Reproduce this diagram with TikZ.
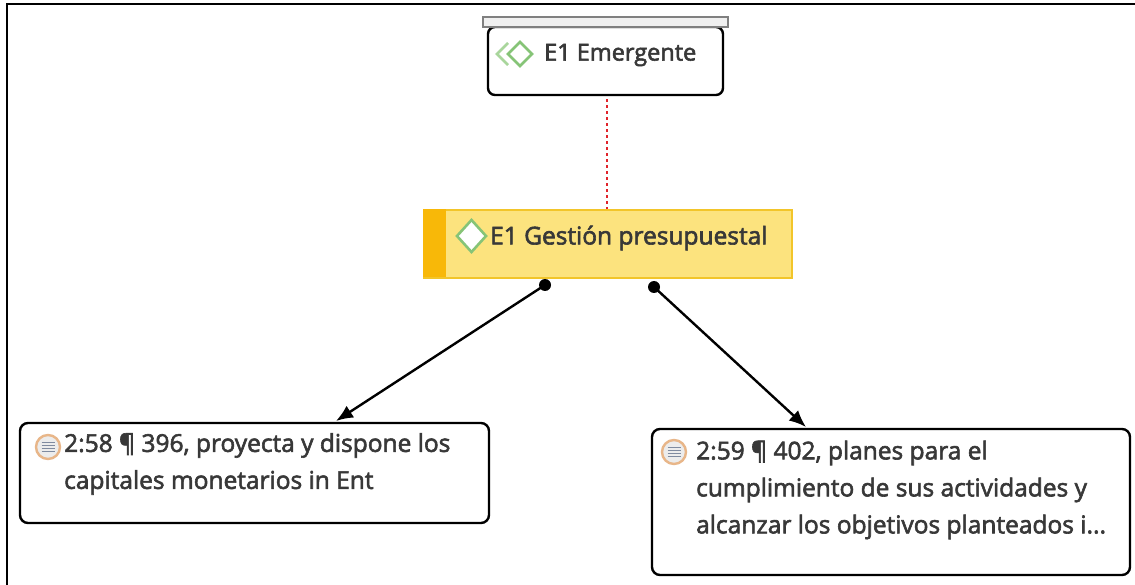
\documentclass[tikz,border=0pt]{standalone}
\usepackage{fontspec}
\setmainfont{Open Sans}[FakeBold=2.4]
\usetikzlibrary{arrows.meta}
\definecolor{txtgray}{HTML}{383838}
\definecolor{codegreen}{HTML}{86C477}
\definecolor{codegreenlt}{HTML}{A9D69C}
\definecolor{groupbar}{HTML}{F8B808}
\definecolor{groupfill}{HTML}{FCE37E}
\definecolor{groupline}{HTML}{F2C52A}
\definecolor{quotering}{HTML}{E8B689}
\definecolor{quotelines}{HTML}{7F8BA0}
\definecolor{linkred}{HTML}{E0242B}
\begin{document}
\begin{tikzpicture}[x=1pt,y=-1pt,
    codebox/.style={draw=black, line width=2.4pt, rounded corners=7pt, fill=white, inner sep=0},
    quotebox/.style={draw=black, line width=2.4pt, rounded corners=8pt, fill=white, inner sep=0},
    label/.style={anchor=west, inner sep=0, text=txtgray, align=left},
    link/.style={line width=2.4pt, -{Latex[length=17pt,width=14pt]}}]
  \useasboundingbox (0,0) rectangle (1135,585);
  % frame
  \draw[line width=2.6pt] (7,585) -- (7,4) -- (1135,4);

  % code nodes
  \node[codebox, minimum width=235, minimum height=68] (emergente) at (605.5,61) {};
  \node[draw=gray, fill=gray!12, line width=1.6pt, inner sep=0,
        minimum width=245, minimum height=10] (bar) at (605.5,22) {};
  \node[draw=groupline, fill=groupfill, line width=1.6pt, inner sep=0,
        minimum width=368, minimum height=68] (gestion) at (608,244) {};
  \fill[groupbar] (gestion.north west) rectangle ++(23,68);
  \node[label, font=\fontsize{23.5}{28}\selectfont] (emergentetxt) at (544,55) {E1 Emergente};
  \node[label, font=\fontsize{24.5}{28}\selectfont] (gestiontxt) at (490,238) {E1 Gestión presupuestal};

  % icons
  \draw[codegreenlt, line width=2.6pt] (508,43) -- (497,54) -- (508,65);
  \draw[codegreen, line width=2.6pt] (520,42) -- (532,54) -- (520,66) -- (508,54) -- cycle;
  \draw[codegreen, fill=white, line width=2.6pt] (471.5,220) -- (486,236) -- (471.5,252) -- (457,236) -- cycle;

  % quotations
  \node[quotebox, minimum width=469, minimum height=100] (quoteL) at (254.5,473) {};
  \node[quotebox, minimum width=478, minimum height=146] (quoteR) at (891,502) {};
  \node[label, font=\fontsize{24.5}{37}\selectfont] (quoteLtxt) at (64,464)
    {2:58 ¶ 396, proyecta y dispone los\\capitales monetarios in Ent};
  \node[label, font=\fontsize{24.5}{37}\selectfont] (quoteRtxt) at (696,490)
    {2:59 ¶ 402, planes para el\\cumplimiento de sus actividades y\\alcanzar los objetivos planteados i...};
  \foreach \qx/\qy in {48/447, 674/452} {
    \draw[quotering, fill=gray!15, line width=2.4pt] (\qx,\qy) circle (12);
    \foreach \dy in {-4.5,-1.5,1.5,4.5}
      \draw[quotelines, line width=1.5pt] (\qx-6.5,\qy+\dy) -- (\qx+6.5,\qy+\dy);
  }

  % links
  \draw[linkred, line width=2.2pt, dash pattern=on 3pt off 3pt] (emergente.south) ++(1.5,3) -- (gestion.north -| 607,0);
  \coordinate (dotL) at (545,285);
  \coordinate (dotR) at (654,287);
  \coordinate (tipL) at (336,421);
  \coordinate (tipR) at (806,427);
  \draw[link] (dotL) -- (tipL);
  \draw[link] (dotR) -- (tipR);
  \fill (dotL) circle (6);
  \fill (dotR) circle (6);
\end{tikzpicture}
\end{document}
